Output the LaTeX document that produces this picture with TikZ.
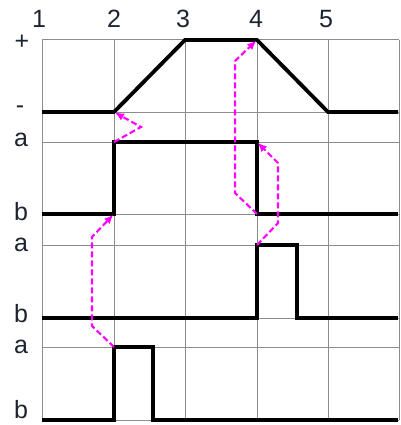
\documentclass[tikz,border=0pt]{standalone}
\usepackage{fontspec}
\setmainfont{Liberation Sans}
\usetikzlibrary{arrows.meta}
\definecolor{gridc}{HTML}{8C8C8C}
\definecolor{cue}{HTML}{FF00FF}
\definecolor{ink}{HTML}{1C2430}
\tikzset{
  gridl/.style={draw=gridc,line width=1pt},
  sig/.style={draw=black,line width=3.8pt,line join=miter},
  % --- dashed cue: which edge triggers which ---
  cause/.style={draw=cue,line width=2.1pt,dash pattern=on 6pt off 3pt,
    -{Latex[length=3.2mm,width=2.8mm]},shorten >=1pt},
  lab/.style={font=\fontsize{25}{28}\selectfont,text=ink,inner sep=0pt},
}
\begin{document}
\begin{tikzpicture}[x=1pt,y=-1pt]
  \useasboundingbox (0,0) rectangle (400,425);
  % grid
  \foreach \x in {42,114,185,257,328,399}
    \draw[gridl] (\x,40) -- (\x,420);
  \foreach \y in {40,112,142,214,245,318,347,420}
    \draw[gridl] (42,\y) -- (399,\y);
  % step numbers and levels
  \foreach \n/\x in {1/39,2/114,3/183,4/256,5/326}
    \node[lab] (c\n) at (\x,19) {\n};
  \node[lab] (lp) at (22,42) {+};
  \node[lab] (lm) at (20,110) {-};
  \node[lab] (la1) at (21,140) {a};
  \node[lab] (lb1) at (21,212) {b};
  \node[lab] (la2) at (21,245) {a};
  \node[lab] (lb2) at (21,314) {b};
  \node[lab] (la3) at (21,347) {a};
  \node[lab] (lb3) at (21,410) {b};
  % signals
  \draw[sig] (42,112) -- (114,112) coordinate (p0) -- (185,40)
    -- (257,40) coordinate (p1) -- (328,112) -- (398,112);
  \draw[sig] (42,214) -- (114,214) coordinate (q0) -- (114,142) coordinate (q1)
    -- (257,142) coordinate (q2) -- (257,214) coordinate (q3) -- (398,214);
  \draw[sig] (42,318) -- (257,318) -- (257,245) coordinate (r0)
    -- (297,245) -- (297,318) -- (398,318);
  \draw[sig] (42,420) -- (114,420) -- (114,347) coordinate (s0)
    -- (153,347) -- (153,420) -- (398,420);
  % cues
  \draw[cause] (q1) -- ++(27,-15) -- (p0);
  \draw[cause] (s0) -- ++(-22,-21) -- ++(0,-89) -- (q0);
  \draw[cause] (q3) -- ++(-22,-21) -- ++(0,-132) -- (p1);
  \draw[cause] (r0) -- ++(21,-22) -- ++(0,-60) -- (q2);
\end{tikzpicture}
\end{document}
